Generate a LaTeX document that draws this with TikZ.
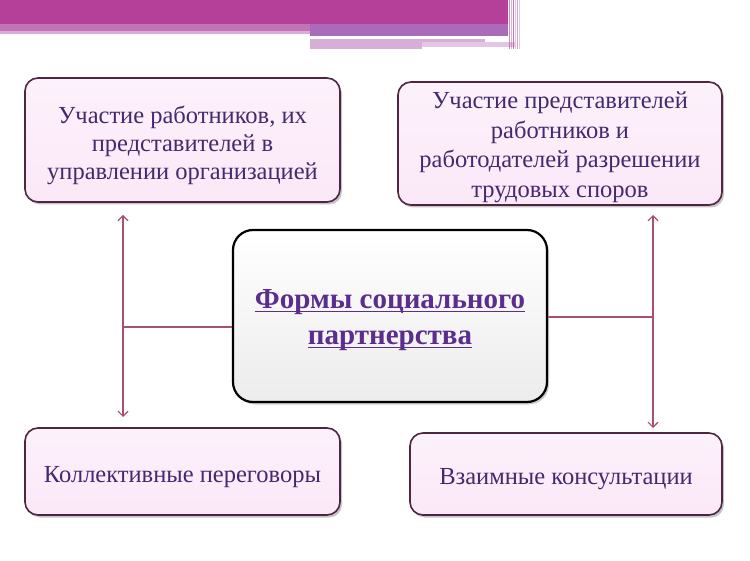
\documentclass[tikz,border=0pt]{standalone}
\usepackage{fontspec}
\setmainfont{Liberation Serif}
\usetikzlibrary{shadows,arrows.meta}
\definecolor{band}{HTML}{B5409A}
\definecolor{bandb}{HTML}{C274B6}
\definecolor{bandc}{HTML}{A96BBA}
\definecolor{bandd}{HTML}{D6AED8}
\definecolor{boxfill}{HTML}{FBE8F8}
\definecolor{boxdraw}{HTML}{4E2642}
\definecolor{txt}{HTML}{45286E}
\definecolor{ctxt}{HTML}{5A2D8E}
\definecolor{conn}{HTML}{A8506E}
\newcommand{\myul}[1]{\setbox0\hbox{#1}\rlap{\color{ctxt}\rule[-4pt]{\wd0}{1.6pt}}\box0}
\tikzset{
  box/.style={draw=boxdraw, line width=1.6pt, rounded corners=13pt,
    top color=boxfill!60, bottom color=boxfill, middle color=boxfill!80,
    drop shadow={shadow xshift=2pt, shadow yshift=-2.5pt, opacity=0.45}},
  lbl/.style={align=center, text=txt, font=\fontsize{24.5}{28}\selectfont, inner sep=1pt},
  cbox/.style={draw=black, line width=2.2pt, rounded corners=20pt,
    top color=white, bottom color=gray!15,
    drop shadow={shadow xshift=2pt, shadow yshift=-2.5pt, opacity=0.4}},
  clbl/.style={align=center, text=ctxt, font=\fontsize{29}{36}\selectfont\bfseries},
  conn/.style={draw=conn, line width=1.1pt},
  arr/.style={conn, {Straight Barb[length=5pt,width=10pt]}-{Straight Barb[length=5pt,width=10pt]}}
}
\begin{document}
\begin{tikzpicture}[x=1pt,y=-1pt]
\useasboundingbox (0,0) rectangle (750,561);
\fill[white] (0,0) rectangle (750,561);
% top band
\fill[bandb] (0,24) rectangle (310,31);
\fill[bandd] (0,31) rectangle (310,34);
\fill[bandc] (310,24) rectangle (508,36);
\fill[bandd] (310,39) rectangle (485,42);
\fill[bandd] (310,42) rectangle (422,49);
\fill[bandd!70] (422,42) rectangle (515,47);
\fill[band] (0,0) rectangle (508,24);
\foreach \xx/\op in {509/0.6,511/0.4,513/0.7,515/0.3,517/0.5,519/0.3}
  \fill[band, opacity=\op] (\xx,0) rectangle (\xx+1,49);
% nodes
\node[box, minimum width=315pt, minimum height=124pt] (tl) at (182.5,140) {};
\node[lbl] (tltext) at (182.5,145)
  {Участие работников, их\\представителей в\\управлении организацией};
\node[box, minimum width=324pt, minimum height=123pt] (tr) at (560,143.5) {};
\node[lbl, font=\fontsize{24.5}{29.5}\selectfont] (trtext) at (560,147.5)
  {Участие представителей\\работников и\\работодателей разрешении\\трудовых споров};
\node[cbox, minimum width=314pt, minimum height=172pt] (c) at (390,316) {};
\node[clbl] (ctext) at (390,320)
  {\myul{Формы социального}\\\myul{партнерства}};
\node[box, minimum width=315pt, minimum height=87pt] (bl) at (182.5,471.5) {};
\node[lbl] (bltext) at (182.5,477) {Коллективные переговоры};
\node[box, minimum width=312pt, minimum height=82pt] (br) at (566,474) {};
\node[lbl] (brtext) at (566,479) {Взаимные консультации};
% connectors
\coordinate (lt) at (123,215);
\coordinate (lb) at (123,417);
\coordinate (lj) at (123,327);
\coordinate (rt) at (653,215);
\coordinate (rb) at (653,428);
\coordinate (rj) at (653,317);
\draw[arr] (lt) -- (lb);
\draw[conn] (lj) -- (lj -| c.west);
\draw[arr] (rt) -- (rb);
\draw[conn] (rj -| c.east) -- (rj);
\end{tikzpicture}
\end{document}
